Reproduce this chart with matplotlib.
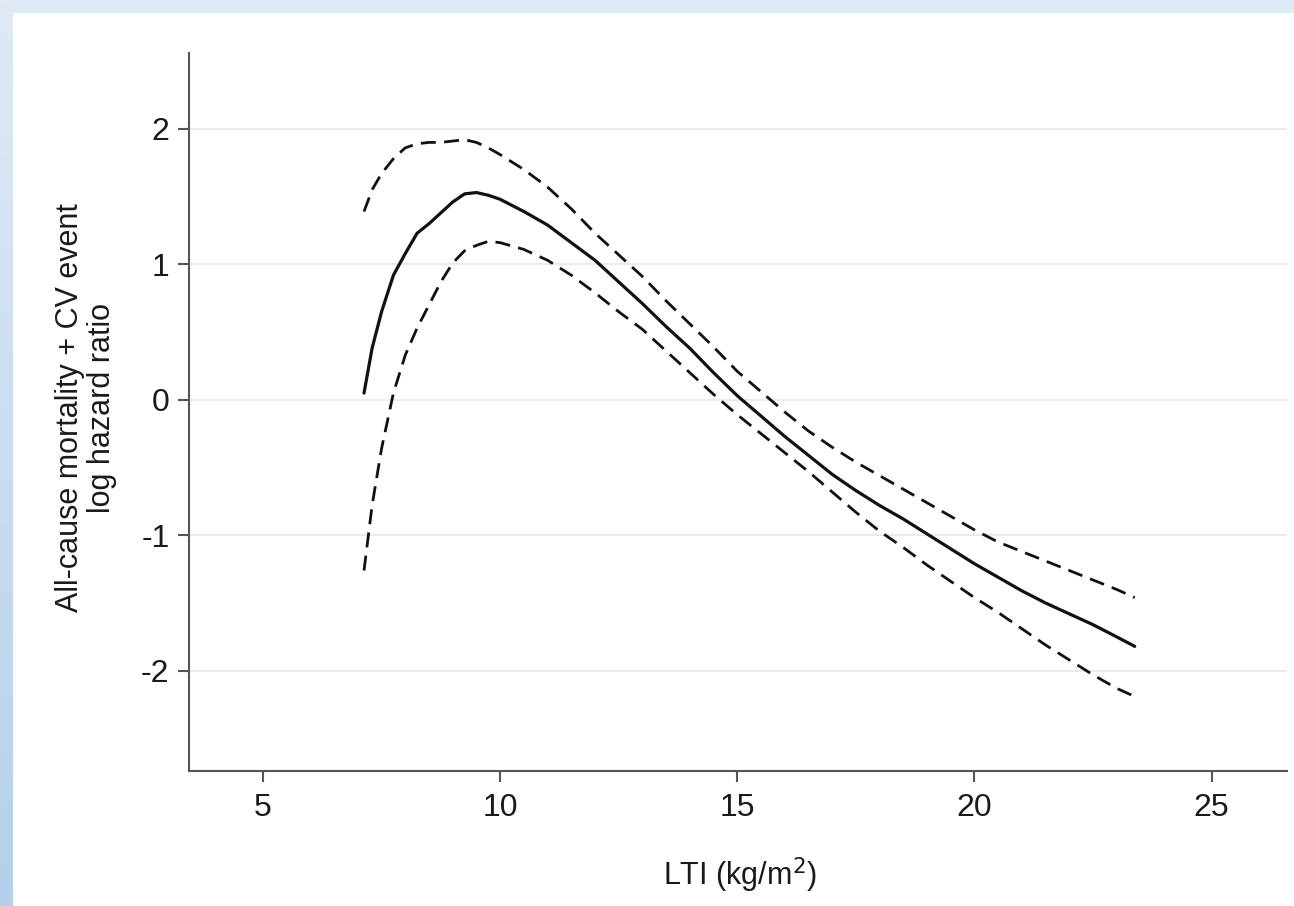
import numpy as np
import matplotlib
matplotlib.use("Agg")
import matplotlib.pyplot as plt

plt.rcParams['font.family'] = ['Liberation Sans', 'DejaVu Sans']
plt.rcParams['axes.unicode_minus'] = False

# LTI (kg/m^2) grid
lti = [7.13, 7.3, 7.5, 7.75, 8.0, 8.25, 8.5, 8.75, 9.0, 9.25, 9.5, 9.75, 10.0,
       10.5, 11.0, 11.5, 12.0, 12.5, 13.0, 13.5, 14.0, 14.5, 15.0, 15.5, 16.0,
       16.5, 17.0, 17.5, 18.0, 18.5, 19.0, 19.5, 20.0, 20.5, 21.0, 21.5, 22.0,
       22.5, 23.0, 23.38]

# log hazard ratio estimate
log_hr = [0.05, 0.38, 0.65, 0.92, 1.08, 1.23, 1.30, 1.38, 1.46, 1.52, 1.53, 1.51, 1.48,
          1.39, 1.29, 1.16, 1.03, 0.87, 0.71, 0.54, 0.38, 0.20, 0.03, -0.12, -0.27,
          -0.41, -0.55, -0.67, -0.78, -0.88, -0.99, -1.10, -1.21, -1.31, -1.41, -1.50, -1.58,
          -1.66, -1.75, -1.82]

# upper 95% CI
upper_ci = [1.39, 1.55, 1.67, 1.78, 1.86, 1.89, 1.90, 1.90, 1.91, 1.92, 1.90, 1.86, 1.81,
            1.70, 1.57, 1.41, 1.23, 1.07, 0.91, 0.73, 0.56, 0.39, 0.21, 0.06, -0.09,
            -0.23, -0.35, -0.46, -0.56, -0.66, -0.76, -0.86, -0.96, -1.05, -1.12, -1.19, -1.26,
            -1.33, -1.40, -1.46]

# lower 95% CI
lower_ci = [-1.26, -0.78, -0.36, 0.05, 0.33, 0.53, 0.70, 0.87, 1.01, 1.10, 1.14, 1.17, 1.16,
            1.11, 1.03, 0.92, 0.79, 0.65, 0.52, 0.36, 0.20, 0.04, -0.11, -0.25, -0.39,
            -0.53, -0.68, -0.83, -0.97, -1.09, -1.22, -1.34, -1.46, -1.57, -1.69, -1.81, -1.92,
            -2.03, -2.13, -2.19]

x_ticks = [5, 10, 15, 20, 25]
y_ticks = [-2, -1, 0, 1, 2]

W, H = 1294, 906
fig = plt.figure(figsize=(W / 100, H / 100), dpi=100)
fig.patch.set_facecolor('white')

# decorative light-blue frame (left gradient strip and top strip)
top_ax = fig.add_axes([0, 1 - 13 / H, 1, 13 / H])
top_ax.set_facecolor('#dde9f5')
top_ax.set_xticks([]); top_ax.set_yticks([])
for s in top_ax.spines.values():
    s.set_visible(False)

left_ax = fig.add_axes([0, 0, 13 / W, 1])
grad = np.linspace(0, 1, 256).reshape(-1, 1)
c_top = np.array([0.875, 0.918, 0.963])
c_bot = np.array([0.710, 0.816, 0.925])
img = c_top[None, None, :] * (1 - grad[:, :, None]) + c_bot[None, None, :] * grad[:, :, None]
left_ax.imshow(img, aspect='auto', origin='upper', extent=[0, 1, 0, 1])
left_ax.set_axis_off()

ax = fig.add_axes([189 / W, (H - 771) / H, (1287 - 189) / W, (771 - 53) / H])
ax.set_xlim(3.44, 26.59)
ax.set_ylim(-2.74, 2.56)

ax.plot(lti, log_hr, color='#111111', lw=2.3, solid_capstyle='round',
        solid_joinstyle='round', zorder=3)
ax.plot(lti, upper_ci, color='#111111', lw=2.0, dashes=(5.4, 3.0), zorder=3)
ax.plot(lti, lower_ci, color='#111111', lw=2.0, dashes=(5.4, 3.0), zorder=3)

ax.set_xticks(x_ticks)
ax.set_yticks(y_ticks)
ax.set_xticklabels([str(v) for v in x_ticks])
ax.set_yticklabels([str(v) for v in y_ticks])
ax.grid(axis='y', color='#e8e8e8', lw=1.3, zorder=0)
ax.grid(axis='x', visible=False)

for side in ['top', 'right']:
    ax.spines[side].set_visible(False)
for side in ['left', 'bottom']:
    ax.spines[side].set_color('#555555')
    ax.spines[side].set_linewidth(1.5)

ax.tick_params(axis='both', direction='out', length=8, width=1.5, color='#555555',
               labelsize=23, labelcolor='#1a1a1a')
ax.tick_params(axis='x', pad=8)
ax.tick_params(axis='y', pad=6)

fig.text(740 / W, (H - 885) / H, 'LTI (kg/m$^{2}$)', ha='center', va='baseline',
         fontsize=22, color='#1a1a1a')
fig.text(86 / W, (H - 408) / H, 'All-cause mortality + CV event\nlog hazard ratio',
         rotation=90, ha='center', va='center', multialignment='center',
         fontsize=22, linespacing=1.08, color='#1a1a1a')

fig.savefig('out.png', dpi=100)
